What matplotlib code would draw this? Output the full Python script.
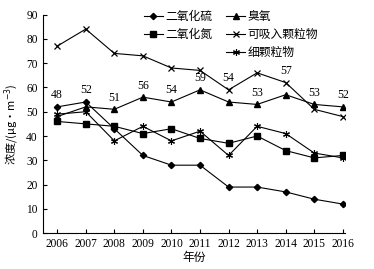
import matplotlib.pyplot as plt
from matplotlib.lines import Line2D

years = [2006, 2007, 2008, 2009, 2010, 2011, 2012, 2013, 2014, 2015, 2016]
so2 = [52, 54, 43, 32, 28, 28, 19, 19, 17, 14, 12]
o3 = [48, 52, 51, 56, 54, 59, 54, 53, 57, 53, 52]
no2 = [46, 45, 44, 41, 43, 39, 37, 40, 34, 31, 32]
pm10 = [77, 84, 74, 73, 68, 67, 59, 66, 62, 51, 48]
pm25 = [49, 50, 38, 44, 38, 42, 32, 44, 41, 33, 31]

cjk = ['Noto Sans CJK SC', 'DejaVu Sans']
num_font = 'Liberation Serif'

fig = plt.figure(figsize=(3.74, 2.69), dpi=100)
ax = fig.add_axes([0.114, 0.133, 0.808, 0.813])

lw = 0.8
h_so2, = ax.plot(years, so2, color='black', lw=lw, marker='D', ms=3.2, label='二氧化硫')
h_o3, = ax.plot(years, o3, color='black', lw=lw, marker='^', ms=4, label='臭氧')
h_no2, = ax.plot(years, no2, color='black', lw=lw, marker='s', ms=4.5, label='二氧化氮')
h_pm10, = ax.plot(years, pm10, color='black', lw=lw, marker='x', ms=5, mew=0.9, label='可吸入颗粒物')
h_pm25, = ax.plot(years, pm25, color='black', lw=lw, marker=(6, 2, 0), ms=5, mew=0.8, label='细颗粒物')

# O3 value labels above the top marker at each year
for x, v, s, p in zip(years, o3, so2, pm10):
    anchor = max(v, s)
    if 0 <= p - v < 7:
        anchor = p
    ax.annotate(str(v), (x, anchor), xytext=(0, 4), textcoords='offset points',
                ha='center', va='bottom', fontsize=8.5, family=num_font)

ax.set_xlim(2005.49, 2016.07)
ax.set_ylim(0, 90)
ax.set_xticks(years)
ax.set_yticks(range(0, 91, 10))
ax.tick_params(direction='in', length=3, width=0.8, labelsize=8.3)
for lab in ax.get_xticklabels() + ax.get_yticklabels():
    lab.set_family(num_font)
ax.spines['top'].set_visible(False)
ax.spines['right'].set_visible(False)

ax.set_xlabel('年份', family=cjk, fontsize=8.5, labelpad=1)
ax.set_ylabel('浓度/(μg·m$^{-3}$)', family=cjk, fontsize=8, labelpad=4)

blank = Line2D([], [], linestyle='none')
ax.legend([h_so2, h_no2, blank, h_o3, h_pm10, h_pm25],
          ['二氧化硫', '二氧化氮', '', '臭氧', '可吸入颗粒物', '细颗粒物'],
          ncol=2, loc='upper left', bbox_to_anchor=(0.3, 1.07), frameon=False,
          prop={'family': cjk, 'size': 8.5}, handlelength=1.6, handletextpad=0.2,
          columnspacing=1.2, labelspacing=0.45)

fig.savefig('out.png', dpi=100)
